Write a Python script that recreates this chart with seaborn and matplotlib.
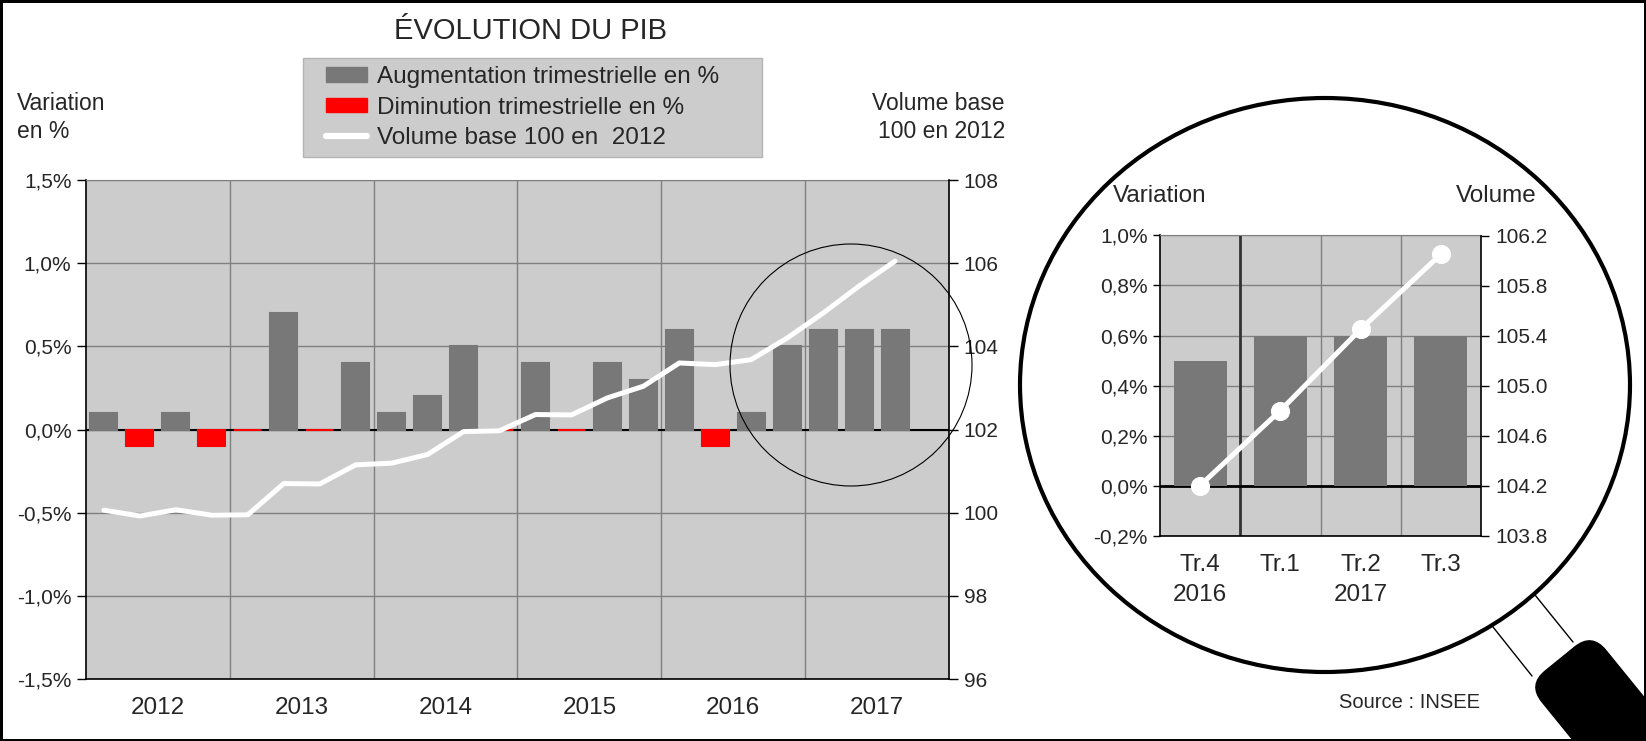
import numpy as np
import pandas as pd
import matplotlib
matplotlib.use('Agg')
from matplotlib import pyplot as plt
from matplotlib import patches, transforms
from matplotlib.lines import Line2D
from matplotlib.ticker import FuncFormatter, MultipleLocator, FixedLocator
import seaborn as sns
sns.set_style('white')
plt.rcParams['font.family'] = ['Liberation Sans', 'DejaVu Sans']

# donnees (PIB trimestriel, 2012 T1 -> 2017 T3)
years = ['2012', '2013', '2014', '2015', '2016', '2017']
quarters = ['T1', 'T2', 'T3', 'T4']
variation = [0.1, -0.1, 0.1, -0.1,
             0.0, 0.7, 0.0, 0.4,
             0.1, 0.2, 0.5, 0.0,
             0.4, 0.0, 0.4, 0.3,
             0.6, -0.1, 0.1, 0.5,
             0.6, 0.6, 0.6]
volume = [100.06, 99.92, 100.07, 99.94,
          99.95, 100.7, 100.69, 101.15,
          101.19, 101.4, 101.95, 101.97,
          102.36, 102.35, 102.76, 103.04,
          103.6, 103.56, 103.68, 104.2,
          104.8, 105.45, 106.05]
zoom_labels = ['Tr.4\n2016', 'Tr.1', 'Tr.2\n2017', 'Tr.3']
zoom_variation = variation[-4:]
zoom_volume = volume[-4:]

lab_up = 'Augmentation trimestrielle en %'
lab_down = 'Diminution trimestrielle en %'
lab_vol = 'Volume base 100 en  2012'

GREY_BAR = '#787878'
BG = '#cccccc'
GRID = '#808080'

order = ['%s %s' % (y, q) for y in years for q in quarters]
df = pd.DataFrame({'trimestre': order[:len(variation)],
                   'variation': variation,
                   'volume': volume})
df['pos'] = np.arange(len(df))
df['sens'] = np.where(df['variation'] > 0, lab_up, lab_down)

W, H = 1646, 741
fig = plt.figure(figsize=(W / 100, H / 100), dpi=100)

def fx(px):
    return px / W

def fy(py):
    return 1 - py / H

def pct(v, p=None):
    if abs(v) < 1e-9:
        v = 0.0
    return ('%.1f%%' % v).replace('.', ',')

# ---------------- graphique principal ----------------
ax = fig.add_axes([fx(86), fy(679), fx(949 - 86), (679 - 180) / H])
ax.set_facecolor(BG)
ax.axhline(0, color='black', lw=1.5, zorder=2)
sns.barplot(data=df, x='trimestre', y='variation', hue='sens', order=order,
            hue_order=[lab_up, lab_down], palette=[GREY_BAR, 'red'],
            dodge=False, width=0.75, saturation=1, legend=False, ax=ax, zorder=3)
for p in ax.patches:
    p.set_edgecolor(p.get_facecolor())
    p.set_linewidth(1.5)

ax.set_ylim(-1.5, 1.5)
ax.yaxis.set_major_locator(MultipleLocator(0.5))
ax.yaxis.set_major_formatter(FuncFormatter(pct))
ax.set_xticks(np.arange(1.5, 24, 4))
ax.set_xticklabels(years)
ax.xaxis.set_minor_locator(FixedLocator(np.arange(3.5, 23, 4)))
ax.set_xlim(-0.5, 23.5)
ax.set_axisbelow(True)
ax.yaxis.grid(True, color=GRID, lw=1)
ax.xaxis.grid(True, which='minor', color=GRID, lw=1)
ax.xaxis.grid(False, which='major')
ax.tick_params(axis='x', which='both', length=0, labelsize=17.5, pad=13)
ax.tick_params(axis='y', length=6.5, width=1, color='black', labelsize=15, pad=4, left=True)
ax.set_xlabel('')
ax.set_ylabel('')
for s in ['left', 'bottom']:
    ax.spines[s].set_color('black')
    ax.spines[s].set_linewidth(1.2)
ax.spines['top'].set_color(GRID)
ax.spines['right'].set_visible(False)

ax2 = ax.twinx()
sns.lineplot(data=df, x='pos', y='volume', color='white', lw=3.6, ax=ax2, zorder=5)
ax2.set_ylim(96, 108)
ax2.set_yticks(range(96, 109, 2))
ax2.set_xlim(-0.5, 23.5)
ax2.tick_params(axis='y', length=6.5, width=1, color='black', labelsize=15, pad=4, right=True)
ax2.set_xlabel('')
ax2.set_ylabel('')
for s in ['top', 'left', 'bottom']:
    ax2.spines[s].set_visible(False)
ax2.spines['right'].set_color('black')
ax2.spines['right'].set_linewidth(1.2)

fig.text(fx(530), fy(31), 'ÉVOLUTION DU PIB', ha='center', va='center', fontsize=21)
fig.text(fx(17), fy(103), 'Variation', ha='left', va='center', fontsize=16.5)
fig.text(fx(17), fy(132), 'en %', ha='left', va='center', fontsize=16.5)
fig.text(fx(1005), fy(103), 'Volume base', ha='right', va='center', fontsize=16.5)
fig.text(fx(1005), fy(132), '100 en 2012', ha='right', va='center', fontsize=16.5)

# legende : cadre gris puis entrees
fig.add_artist(patches.Rectangle((fx(303), fy(157)), fx(762) - fx(303), (157 - 58) / H,
                                 transform=fig.transFigure, fc=BG, ec='#b4b4b4',
                                 lw=1, zorder=1))
handles = [patches.Patch(facecolor=GREY_BAR, edgecolor=GREY_BAR),
           patches.Patch(facecolor='red', edgecolor='red'),
           Line2D([], [], color='white', lw=4.5)]
leg = fig.legend(handles, [lab_up, lab_down, lab_vol], loc='upper left',
                 bbox_to_anchor=(fx(326), fy(66)), fontsize=17.5, frameon=False,
                 handlelength=1.7, handleheight=0.55, handletextpad=0.4,
                 labelspacing=0.35, borderpad=0, borderaxespad=0)
leg.set_zorder(2)

# cercle de reperage sur le graphique principal
fig.add_artist(patches.Ellipse((fx(851), fy(365)), 242 / W, 242 / H,
                               transform=fig.transFigure, fill=False,
                               ec='black', lw=0.8, zorder=6))

# ---------------- loupe ----------------
ax3 = fig.add_axes([fx(1160), fy(535.5), fx(1481 - 1160), 300 / H])
ax3.set_facecolor(BG)
ax3.axhline(0, color='black', lw=2, zorder=2)
sns.barplot(x=zoom_labels, y=zoom_variation, color=GREY_BAR, width=0.66,
            saturation=1, edgecolor=GREY_BAR, linewidth=0, ax=ax3, zorder=3)
ax3.set_ylim(-0.2, 1.0)
ax3.yaxis.set_major_locator(MultipleLocator(0.2))
ax3.yaxis.set_major_formatter(FuncFormatter(pct))
ax3.xaxis.set_minor_locator(FixedLocator([0.5, 1.5, 2.5]))
ax3.set_xlim(-0.5, 3.5)
ax3.set_axisbelow(True)
ax3.yaxis.grid(True, color=GRID, lw=1)
ax3.xaxis.grid(True, which='minor', color=GRID, lw=1)
ax3.axvline(zoom_labels.index('Tr.1') - 0.5, color='#333333', lw=2, zorder=1)
ax3.tick_params(axis='x', which='both', length=0, labelsize=17.5, pad=13)
ax3.tick_params(axis='y', length=5, width=1, color='black', labelsize=15, pad=4, left=True)
for lbl in ax3.get_xticklabels():
    lbl.set_linespacing(1.5)
ax3.set_xlabel('')
ax3.set_ylabel('')
for s in ['left', 'bottom']:
    ax3.spines[s].set_color('black')
    ax3.spines[s].set_linewidth(1.2)
ax3.spines['top'].set_color(GRID)
ax3.spines['right'].set_visible(False)

ax4 = ax3.twinx()
sns.lineplot(x=np.arange(len(zoom_volume)), y=zoom_volume, color='white', lw=3.6,
             marker='o', markersize=13, markeredgecolor='white', ax=ax4, zorder=5)
ax4.set_ylim(103.8, 106.2)
ax4.set_yticks(np.linspace(103.8, 106.2, 7))
ax4.yaxis.set_major_formatter(FuncFormatter(lambda v, p: '%.1f' % v))
ax4.set_xlim(-0.5, 3.5)
ax4.tick_params(axis='y', length=6, width=1, color='black', labelsize=15, pad=4, right=True)
for s in ['top', 'left', 'bottom']:
    ax4.spines[s].set_visible(False)
ax4.spines['right'].set_color('black')
ax4.spines['right'].set_linewidth(1.2)

fig.text(fx(1113), fy(196), 'Variation', ha='left', va='center', fontsize=17.5)
fig.text(fx(1537), fy(196), 'Volume', ha='right', va='center', fontsize=17.5)
fig.text(fx(1480), fy(703), 'Source : INSEE', ha='right', va='center', fontsize=14.5)

# cadre de la loupe
fig.add_artist(patches.Ellipse((fx(1325), fy(385)), 610 / W, 574 / H,
                               transform=fig.transFigure, fill=False,
                               ec='black', lw=3, zorder=6))
for (x0, y0), (x1, y1) in [((1493, 627), (1532, 676)), ((1535, 595), (1573, 642))]:
    fig.add_artist(Line2D([fx(x0), fx(x1)], [fy(y0), fy(y1)],
                          transform=fig.transFigure, color='black', lw=1, zorder=6))
handle_tr = (transforms.Affine2D().rotate_deg(-50.9).translate(1560, H - 659)
             .scale(1 / 100.) + fig.dpi_scale_trans)
fig.add_artist(patches.FancyBboxPatch((0, -41), 220, 82,
                                      boxstyle='round,pad=0,rounding_size=22',
                                      transform=handle_tr, fc='black', ec='black', zorder=7))

# cadre exterieur
fig.add_artist(patches.Rectangle((0, 0), 1, 1, transform=fig.transFigure,
                                 fill=False, ec='black', lw=3.6, zorder=10))

fig.savefig('out.png', dpi=100)
